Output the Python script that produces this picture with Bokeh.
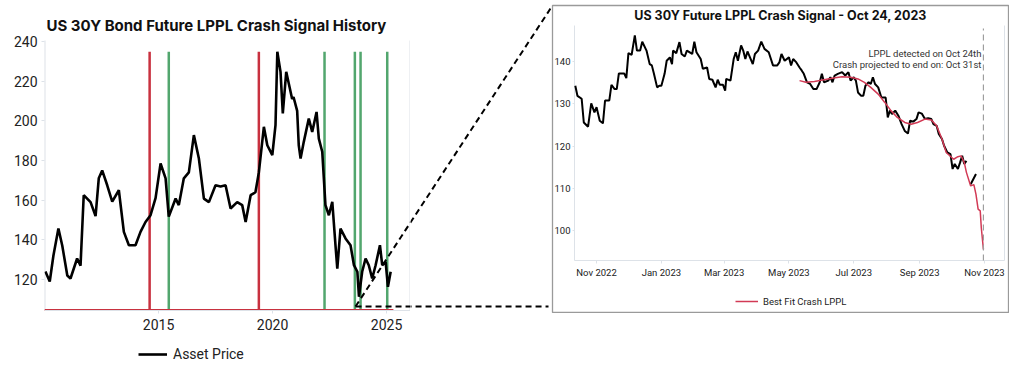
import numpy as np
import pandas as pd
from bokeh.plotting import figure
from bokeh.models import (Range1d, FixedTicker, LinearAxis, DatetimeAxis, Legend, LegendItem,
                          Label, DatetimeTickFormatter)
from bokeh.layouts import row
from bokeh.core.properties import value
from bokeh.embed import file_html
from bokeh.resources import INLINE

# ---------------- data: long history (decimal years) ----------------
hist_years = [2010.04, 2010.23, 2010.39, 2010.61, 2010.78, 2011.00, 2011.14, 2011.43, 2011.58, 2011.72,
              2012.02, 2012.24, 2012.38, 2012.53, 2012.75, 2012.97, 2013.26, 2013.48, 2013.70, 2013.99,
              2014.21, 2014.43, 2014.65, 2014.87, 2015.09, 2015.31, 2015.45, 2015.75, 2015.89, 2016.11,
              2016.33, 2016.55, 2016.77, 2016.99, 2017.21, 2017.50, 2017.72, 2017.94, 2018.16, 2018.45,
              2018.67, 2018.82, 2019.04, 2019.25, 2019.40, 2019.62, 2019.77, 2019.99, 2020.13, 2020.21,
              2020.35, 2020.45, 2020.60, 2020.86, 2020.92, 2021.08, 2021.15, 2021.23, 2021.37, 2021.59,
              2021.74, 2021.93, 2022.03, 2022.18, 2022.32, 2022.47, 2022.62, 2022.76, 2022.84, 2022.98,
              2023.20, 2023.42, 2023.57, 2023.72, 2023.79, 2023.93, 2024.08, 2024.22, 2024.37, 2024.52,
              2024.71, 2024.81, 2024.96, 2025.06, 2025.18]
hist_price = [124, 119, 132, 145.7, 137, 122, 120.5, 130.6, 127, 162.5,
              159, 152, 171, 175, 167.5, 159.3, 165, 144, 137.3, 137.3,
              144, 149, 152.4, 161, 178.5, 171, 151.7, 160.8, 157.5, 171,
              174, 192.8, 181, 160.8, 159, 167.5, 166.9, 167.5, 155.8, 159,
              157.5, 149, 162.5, 164, 174, 197, 187.7, 182.7, 197.8, 234.8,
              224.7, 203.7, 224.7, 211, 212, 205, 187.7, 181, 189.4, 201.1,
              194.4, 204.5, 191, 184.4, 157.5, 152.4, 159.2, 137.3, 125.5, 145.7,
              140.7, 137.3, 127.2, 123.9, 111.3, 123.9, 130.6, 127.2, 120.5, 127.2,
              137.3, 127.2, 128.9, 116.3, 123.9]
crash_signal_years = [2014.61, 2019.40]
end_signal_years = [2015.45, 2022.28, 2023.61, 2023.86, 2025.03]
baseline_years = [2010.0, 2025.3]
baseline_level = 104.6
hist_ticks = [2015, 2020, 2025]
hist_yticks = [120, 140, 160, 180, 200, 220, 240]
zoom_anchor = (2023.64, 106.4)   # point of the history chart that is zoomed

# ---------------- data: zoomed window ----------------
zoom_dates = ["2022-10-12", "2022-10-14", "2022-10-18", "2022-10-20", "2022-10-24", "2022-10-27", "2022-10-30",
              "2022-11-01", "2022-11-04", "2022-11-07", "2022-11-09", "2022-11-13", "2022-11-15", "2022-11-18",
              "2022-11-20", "2022-11-22", "2022-11-27", "2022-11-29", "2022-12-01", "2022-12-04", "2022-12-07",
              "2022-12-09", "2022-12-12", "2022-12-14", "2022-12-18", "2022-12-21", "2022-12-23", "2022-12-25",
              "2022-12-28", "2022-12-30", "2023-01-01", "2023-01-04", "2023-01-06", "2023-01-09", "2023-01-11",
              "2023-01-12", "2023-01-15", "2023-01-18", "2023-01-20", "2023-01-23", "2023-01-25", "2023-01-30",
              "2023-02-01", "2023-02-03", "2023-02-07", "2023-02-09", "2023-02-13", "2023-02-15", "2023-02-18",
              "2023-02-21", "2023-02-23", "2023-02-25", "2023-02-28", "2023-03-02", "2023-03-03", "2023-03-07",
              "2023-03-10", "2023-03-12", "2023-03-14", "2023-03-17", "2023-03-19", "2023-03-21", "2023-03-23",
              "2023-03-28", "2023-03-30", "2023-04-02", "2023-04-05", "2023-04-08", "2023-04-12", "2023-04-16",
              "2023-04-20", "2023-04-22", "2023-04-24", "2023-04-27", "2023-05-01", "2023-05-03", "2023-05-05",
              "2023-05-08", "2023-05-11", "2023-05-13", "2023-05-15", "2023-05-18", "2023-05-21", "2023-05-24",
              "2023-05-27", "2023-05-30", "2023-06-01", "2023-06-03", "2023-06-07", "2023-06-09", "2023-06-11",
              "2023-06-13", "2023-06-16", "2023-06-20", "2023-06-23", "2023-06-26", "2023-06-28", "2023-07-01",
              "2023-07-03", "2023-07-05", "2023-07-08", "2023-07-10", "2023-07-12", "2023-07-15", "2023-07-17",
              "2023-07-19", "2023-07-21", "2023-07-24", "2023-07-27", "2023-07-31", "2023-08-02", "2023-08-04",
              "2023-08-06", "2023-08-09", "2023-08-12", "2023-08-15", "2023-08-18", "2023-08-21", "2023-08-23",
              "2023-08-26", "2023-08-29", "2023-08-31", "2023-09-03", "2023-09-06", "2023-09-09", "2023-09-12",
              "2023-09-14", "2023-09-17", "2023-09-19", "2023-09-22", "2023-09-24", "2023-09-27", "2023-09-30",
              "2023-10-02", "2023-10-04", "2023-10-07", "2023-10-09", "2023-10-11", "2023-10-13", "2023-10-15",
              "2023-10-17", "2023-10-19", "2023-10-24"]
zoom_price = [134.3, 131.9, 131.2, 125.6, 124.6, 130.1, 128.0,
              129.2, 126.0, 125.4, 130.8, 130.8, 134.5, 133.5,
              133.5, 137.2, 137.2, 136.1, 142.0, 141.6, 146.2,
              142.6, 142.6, 144.7, 142.6, 139.4, 139.1, 137.1,
              133.9, 134.3, 134.3, 137.1, 140.2, 141.0, 139.4,
              142.6, 142.0, 144.6, 141.8, 141.2, 142.6, 141.8,
              144.7, 142.2, 140.6, 138.3, 138.6, 135.9, 135.7,
              133.9, 135.7, 134.5, 134.5, 133.1, 135.9, 135.5,
              140.6, 142.2, 140.2, 143.8, 142.6, 140.6, 142.4,
              139.4, 141.8, 142.6, 144.7, 143.0, 142.2, 139.1,
              139.1, 139.8, 141.8, 140.2, 141.0, 139.1, 140.6,
              139.8, 138.6, 137.9, 137.1, 135.1, 134.7, 133.5,
              133.5, 135.1, 137.1, 135.1, 135.5, 136.3, 135.1,
              136.7, 137.1, 137.5, 136.7, 137.5, 135.5, 136.3,
              135.5, 132.7, 131.9, 131.9, 134.3, 135.1, 134.7,
              136.3, 134.7, 133.9, 131.5, 131.5, 126.8, 128.4,
              127.6, 128.4, 127.2, 125.2, 123.6, 123.0, 126.0,
              125.8, 126.4, 128.0, 127.7, 126.4, 126.6, 126.4,
              125.2, 124.8, 122.9, 121.7, 120.1, 118.5, 118.1,
              114.6, 115.8, 114.6, 116.1, 117.7, 115.8, 116.5,
              np.nan, 111.0, 113.4]
fit_dates = ["2023-05-11", "2023-05-17", "2023-05-25", "2023-06-03", "2023-06-12", "2023-06-20", "2023-06-28",
             "2023-07-05", "2023-07-11", "2023-07-17", "2023-07-24", "2023-07-30", "2023-08-05", "2023-08-11",
             "2023-08-18", "2023-08-24", "2023-08-30", "2023-09-06", "2023-09-12", "2023-09-17", "2023-09-22",
             "2023-09-26", "2023-10-03", "2023-10-07", "2023-10-10", "2023-10-13", "2023-10-15", "2023-10-19",
             "2023-10-22", "2023-10-24", "2023-10-26", "2023-10-28", "2023-10-29", "2023-10-31"]
fit_values = [135.5, 135.1, 135.3, 135.7, 136.1, 136.4, 136.3,
              135.9, 135.1, 133.9, 132.3, 130.4, 128.4, 126.8,
              125.6, 125.2, 125.6, 126.4, 126.2, 124.8, 121.7,
              118.5, 116.9, 117.5, 117.7, 116.1, 113.8, 110.6,
              110.9, 108.6, 105.1, 104.7, 100.7, 95.6]
crash_end_date = "2023-10-31"
zoom_x_start, zoom_x_end = "2022-10-11 06:00", "2023-11-19 20:00"
zoom_y_start, zoom_y_end = 92.96, 148.53
zoom_xticks = ["2022-11-01", "2023-01-01", "2023-03-01", "2023-05-01", "2023-07-01", "2023-09-01", "2023-11-01"]
zoom_yticks = [100, 110, 120, 130, 140]
note_lines = ["LPPL detected on Oct 24th", "Crash projected to end on: Oct 31st"]
note_levels = [141.82, 139.22]

# ---------------- styling ----------------
FONT = "Roboto"
TFONT = "Inter"
RED = "#c8313f"
GREEN = "#52a66e"
FIT_RED = "#d23a55"
AXIS_GREY = "#dde2e8"
BOX_GREY = "#9a9a9a"
TXT = "#222222"
DASH = "6 4"
TOP = 5          # common top border of all three canvases (frames are aligned in a row)


def ms(s):
    return pd.Timestamp(s).value / 1e6


def style_axis(ax, size, standoff, tick_out=3):
    ax.axis_line_color = AXIS_GREY
    ax.major_tick_line_color = AXIS_GREY
    ax.major_tick_out = tick_out
    ax.major_tick_in = 0
    ax.minor_tick_line_color = None
    ax.major_label_text_font = FONT
    ax.major_label_text_font_size = size
    ax.major_label_text_color = TXT
    ax.major_label_standoff = standoff


def no_title(p):
    p.title.text = ""
    p.title.visible = False
    p.title.standoff = 0
    p.title.text_font_size = "0px"


# ================= left: history (frame spans title row to legend row) =================
H = 362
FL, FR, FT, FB = 44, 410, 40, 310          # data area in page pixels
x0, x1 = 2010.0, 2026.05
y0, y1 = 104.37, 240.5
px_x = (FR - FL) / (x1 - x0)
px_y = (FB - FT) / (y1 - y0)
y_bottom = y0 - (H - FB) / px_y
y_top = y1 + (FT - TOP) / px_y
p1 = figure(width=FR, height=H, x_range=Range1d(x0, x1), y_range=Range1d(y_bottom, y_top),
            output_backend="svg", toolbar_location=None, x_axis_location=None,
            min_border_left=FL, min_border_right=0, min_border_top=TOP, min_border_bottom=0,
            outline_line_color=None)
no_title(p1)
p1.grid.visible = False
p1.yaxis.ticker = FixedTicker(ticks=hist_yticks)
style_axis(p1.yaxis[0], "14px", 4)
p1.yaxis.axis_line_color = None
xax1 = LinearAxis(fixed_location=y0, ticker=FixedTicker(ticks=hist_ticks))
style_axis(xax1, "14px", 5)
p1.add_layout(xax1, "below")
# left and right border of the data area
p1.segment(x0=[x0, x1], y0=[y0, y0], x1=[x0, x1], y1=[y1, y1], line_color=AXIS_GREY, line_width=2)

p1.add_layout(Label(x=x0 + 2 / px_x, y=y1 + (FT - 25) / px_y,
                    text="US 30Y Bond Future LPPL Crash Signal History", text_align="left",
                    text_baseline="middle", text_font=TFONT, text_font_style="bold",
                    text_font_size="15px", text_color="#111111"))

top_val = max(hist_price)
p1.segment(x0=crash_signal_years, y0=[y0] * len(crash_signal_years), x1=crash_signal_years,
           y1=[top_val] * len(crash_signal_years), line_color=RED, line_width=2.5)
p1.segment(x0=end_signal_years, y0=[y0] * len(end_signal_years), x1=end_signal_years,
           y1=[top_val] * len(end_signal_years), line_color=GREEN, line_width=2.5)
p1.line(baseline_years, [baseline_level] * 2, line_color=RED, line_width=2)
r_price = p1.line(hist_years, hist_price, line_color="black", line_width=2.6)

leg1 = Legend(items=[LegendItem(label=value("Asset Price"), renderers=[r_price])],
              location=(138 - FL, 0), orientation="horizontal", padding=0, margin=0,
              border_line_color=None, background_fill_alpha=0, label_text_font=FONT,
              label_text_font_size="14px", label_text_color=TXT, glyph_width=29,
              glyph_height=16, label_height=16, label_standoff=6, spacing=0)
p1.add_layout(leg1)

# ---- zoom connector: same geometric lines in the history frame and in the gap ----
BOX_L, BOX_T, BOX_R, BOX_B = 552, TOP, 1008, 313      # zoom box in page pixels
A = (FL + (zoom_anchor[0] - x0) * px_x, FT + (y1 - zoom_anchor[1]) * px_y)
ends = [(BOX_L, BOX_T), (BOX_L - 4, A[1])]


def to_hist(px, py):
    return x0 + (px - FL) / px_x, y1 - (py - FT) / px_y


for e in ends:
    ex, ey = to_hist(*e)
    p1.line([zoom_anchor[0], ex], [zoom_anchor[1], ey], line_color="black", line_width=2,
            line_dash=DASH)

mid = figure(width=BOX_L - 1 - FR, height=H, x_range=Range1d(FR, BOX_L - 1),
             y_range=Range1d(H, TOP), output_backend="svg", toolbar_location=None,
             x_axis_location=None, y_axis_location=None, min_border=0, min_border_top=TOP,
             outline_line_color=None)
no_title(mid)
mid.grid.visible = False
for e in ends:
    mid.line([A[0], e[0]], [A[1], e[1]], line_color="black", line_width=2, line_dash=DASH)

# ================= right: zoomed signal (frame = the box) =================
IL, IR, IT, IB = 574, 1004, 25, 260       # inner plotting area in page pixels
t0, t1 = ms(zoom_x_start), ms(zoom_x_end)
mpp = (t1 - t0) / (IR - IL)
vpp = (zoom_y_end - zoom_y_start) / (IB - IT)
rx0, rx1 = t0 - (IL - BOX_L) * mpp, t1 + (BOX_R - IR) * mpp
ry1, ry0 = zoom_y_end + (IT - BOX_T) * vpp, zoom_y_start - (BOX_B - IB) * vpp

p2 = figure(width=BOX_R - BOX_L + 2, height=BOX_B, x_axis_type="datetime",
            x_range=Range1d(rx0, rx1), y_range=Range1d(ry0, ry1),
            output_backend="svg", toolbar_location=None,
            x_axis_location=None, y_axis_location=None,
            min_border_left=1, min_border_right=1, min_border_top=TOP, min_border_bottom=0,
            outline_line_color=BOX_GREY, outline_line_width=1.3)
no_title(p2)
p2.grid.visible = False

xax = DatetimeAxis(fixed_location=zoom_y_start, ticker=FixedTicker(ticks=[ms(d) for d in zoom_xticks]),
                   formatter=DatetimeTickFormatter(days="%b %Y", months="%b %Y", years="%b %Y"))
style_axis(xax, "9.5px", 3, 3)
xax.axis_line_color = None
p2.add_layout(xax, "below")
yax = LinearAxis(fixed_location=t0, ticker=FixedTicker(ticks=zoom_yticks))
style_axis(yax, "9.5px", 2, 2)
yax.axis_line_color = None
p2.add_layout(yax, "left")
# inner plot border (left, bottom, right)
p2.line([t0, t0, t1, t1], [zoom_y_end, zoom_y_start, zoom_y_start, zoom_y_end],
        line_color=AXIS_GREY, line_width=1)

p2.add_layout(Label(x=rx0 + ((BOX_L + BOX_R) / 2 - BOX_L) * mpp, y=zoom_y_end + (IT - 15) * vpp,
                    text="US 30Y Future LPPL Crash Signal - Oct 24, 2023", text_align="center",
                    text_baseline="middle", text_font=TFONT, text_font_style="bold",
                    text_font_size="12.5px", text_color="#111111"))

p2.line(pd.to_datetime(zoom_dates), zoom_price, line_color="black", line_width=2)
r_fit = p2.line(pd.to_datetime(fit_dates), fit_values, line_color=FIT_RED, line_width=1.5)
p2.segment(x0=[ms(crash_end_date)], y0=[zoom_y_start], x1=[ms(crash_end_date)],
           y1=[zoom_y_end - 3 * vpp], line_color="#9e9e9e", line_dash=DASH, line_width=1.2)
for txt, lvl in zip(note_lines, note_levels):
    p2.add_layout(Label(x=ms(crash_end_date), y=lvl, text=txt, x_offset=-2, text_align="right",
                        text_baseline="middle", text_font=FONT, text_font_size="9.5px",
                        text_color="#333333"))

leg2 = Legend(items=[LegendItem(label=value("Best Fit Crash LPPL"), renderers=[r_fit])],
              location=(735 - BOX_L, 6), orientation="horizontal", padding=0, margin=0,
              border_line_color=None, background_fill_alpha=0, label_text_font=FONT,
              label_text_font_size="9.5px", label_text_color=TXT, glyph_width=23,
              glyph_height=12, label_height=12, label_standoff=5, spacing=0)
p2.add_layout(leg2)

layout = row(p1, mid, p2)
open("out.html", "w").write(file_html(layout, INLINE))
